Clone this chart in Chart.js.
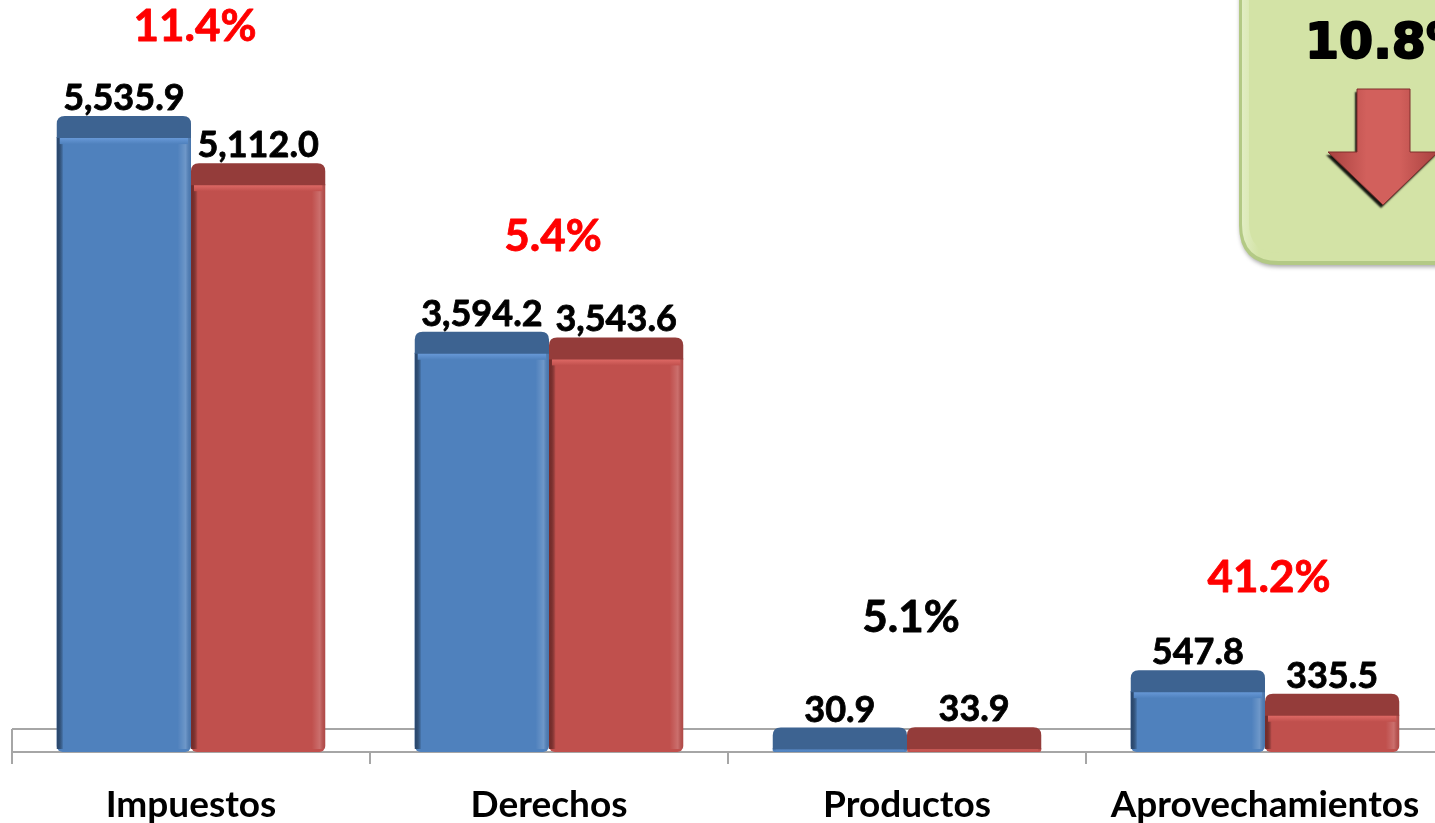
<!DOCTYPE html>
<html>
<head>
<meta charset="utf-8">
<script src="https://cdn.jsdelivr.net/npm/chart.js@4"></script>
<style>
  html, body { margin: 0; padding: 0; background: #ffffff; overflow: hidden; }
  #wrap { position: relative; width: 1500px; height: 823px; }
</style>
</head>
<body>
<div id="wrap"><canvas id="c" width="1500" height="823"></canvas></div>
<script>
// ---- DATA ----
const categories = ['Impuestos', 'Derechos', 'Productos', 'Aprovechamientos'];
const seriesA = [5535.9, 3594.2, 30.9, 547.8];
const seriesB = [5112.0, 3543.6, 33.9, 335.5];
const pctLabels = ['11.4%', '5.4%', '5.1%', '41.2%'];
const pctColors = ['#ff0000', '#ff0000', '#000000', '#ff0000'];
const totalLabel = '10.8%';

// ---- STYLE ----
const DEPTH = 21;
const FONT = 'Lato, "Open Sans", sans-serif';
const faceColors = ['#4f81bd', '#c0504d'];
const capColors = ['#3d6391', '#943c3a'];
const lipColors = ['#6b9cdb', '#e36d69'];
const darkEdge = ['#2b4a72', '#7a2d2b'];

function fmt(v) {
  return v.toLocaleString('en-US', { minimumFractionDigits: 1, maximumFractionDigits: 1 });
}

function roundTopRect(ctx, x, y, w, h, r) {
  ctx.beginPath();
  ctx.moveTo(x, y + h);
  ctx.lineTo(x, y + r);
  ctx.quadraticCurveTo(x, y, x + r, y);
  ctx.lineTo(x + w - r, y);
  ctx.quadraticCurveTo(x + w, y, x + w, y + r);
  ctx.lineTo(x + w, y + h);
  ctx.closePath();
}

function heavyText(ctx, txt, x, y, color, sw) {
  ctx.fillStyle = color;
  ctx.strokeStyle = color;
  ctx.lineWidth = sw;
  ctx.lineJoin = 'round';
  ctx.strokeText(txt, x, y);
  ctx.fillText(txt, x, y);
}

const floorPlugin = {
  id: 'floor3d',
  beforeDatasetsDraw(chart) {
    const { ctx, chartArea } = chart;
    const b = chartArea.bottom;
    ctx.save();
    ctx.strokeStyle = '#a6a6a6';
    ctx.lineWidth = 2;
    ctx.beginPath();
    ctx.moveTo(chartArea.left, b - DEPTH - 2);
    ctx.lineTo(chartArea.right, b - DEPTH - 2);
    ctx.moveTo(chartArea.left, b - DEPTH - 2);
    ctx.lineTo(chartArea.left, b);
    ctx.stroke();
    ctx.restore();
  }
};

const bar3dPlugin = {
  id: 'bar3d',
  afterDatasetsDraw(chart) {
    const ctx = chart.ctx;
    chart.data.datasets.forEach((ds, di) => {
      const meta = chart.getDatasetMeta(di);
      meta.data.forEach((bar, idx) => {
        const p = bar.getProps(['x', 'y', 'base', 'width'], true);
        const l = p.x - p.width / 2, w = p.width;
        const top = p.y, base = p.base;
        ctx.save();
        // front face shading
        const g = ctx.createLinearGradient(l, 0, l + w, 0);
        g.addColorStop(0, darkEdge[di]);
        g.addColorStop(0.05, 'rgba(0,0,0,0)');
        g.addColorStop(0.9, 'rgba(255,255,255,0)');
        g.addColorStop(0.96, 'rgba(255,255,255,0.18)');
        g.addColorStop(1, 'rgba(0,0,0,0.08)');
        ctx.fillStyle = g;
        ctx.fillRect(l, top, w, Math.max(0, base - top - 3));
        // lip (front top bevel)
        const lipH = Math.min(7, Math.max(0, base - top - 1));
        if (lipH > 0) {
          const lg = ctx.createLinearGradient(0, top, 0, top + lipH);
          lg.addColorStop(0, lipColors[di]);
          lg.addColorStop(1, faceColors[di]);
          ctx.fillStyle = lg;
          ctx.fillRect(l + 3, top, w - 6, lipH);
        }
        // top cap
        roundTopRect(ctx, l, top - DEPTH, w, DEPTH + 1, 8);
        ctx.fillStyle = capColors[di];
        ctx.fill();
        // data label
        ctx.font = 'bold 36px ' + FONT;
        ctx.textAlign = 'center';
        ctx.textBaseline = 'alphabetic';
        heavyText(ctx, fmt(ds.data[idx]), p.x, top - DEPTH - 6, '#000000', 0.8);
        ctx.restore();
      });
    });
  }
};

const pctPlugin = {
  id: 'pctNotes',
  afterDatasetsDraw(chart, args, opts) {
    const ctx = chart.ctx;
    const xs = chart.scales.x, ys = chart.scales.y;
    ctx.save();
    ctx.font = 'bold 44px ' + FONT;
    ctx.textAlign = 'center';
    ctx.textBaseline = 'middle';
    categories.forEach((c, i) => {
      const maxV = Math.max(seriesA[i], seriesB[i]);
      const y = ys.getPixelForValue(maxV) - opts.offsets[i];
      heavyText(ctx, pctLabels[i], xs.getPixelForValue(i) + opts.dx, y, pctColors[i], 0.8);
    });
    ctx.restore();
  }
};

const boxPlugin = {
  id: 'totalBox',
  afterDraw(chart) {
    const ctx = chart.ctx;
    ctx.save();
    const x = 1239, y = -40, w = 300, h = 305, r = 40;
    function rr(xx, yy, ww, hh, rad) {
      ctx.beginPath();
      ctx.moveTo(xx + rad, yy);
      ctx.lineTo(xx + ww - rad, yy);
      ctx.quadraticCurveTo(xx + ww, yy, xx + ww, yy + rad);
      ctx.lineTo(xx + ww, yy + hh - rad);
      ctx.quadraticCurveTo(xx + ww, yy + hh, xx + ww - rad, yy + hh);
      ctx.lineTo(xx + rad, yy + hh);
      ctx.quadraticCurveTo(xx, yy + hh, xx, yy + hh - rad);
      ctx.lineTo(xx, yy + rad);
      ctx.quadraticCurveTo(xx, yy, xx + rad, yy);
      ctx.closePath();
    }
    ctx.shadowColor = 'rgba(0,0,0,0.35)';
    ctx.shadowBlur = 4;
    ctx.shadowOffsetX = 1;
    ctx.shadowOffsetY = 2;
    rr(x, y, w, h, r);
    ctx.fillStyle = '#b3c985';
    ctx.fill();
    ctx.shadowColor = 'transparent';
    rr(x + 3, y + 3, w - 6, h - 7, r - 3);
    const gg = ctx.createLinearGradient(x, 0, x + 20, 0);
    gg.addColorStop(0, '#e4efc8');
    gg.addColorStop(1, '#d3e3a6');
    ctx.fillStyle = gg;
    ctx.fill();
    rr(x + 10, y + 8, w - 14, h - 20, r - 10);
    ctx.fillStyle = '#d3e3a6';
    ctx.fill();

    // text
    ctx.font = 'bold 49px "DejaVu Sans", sans-serif';
    ctx.textAlign = 'left';
    ctx.textBaseline = 'alphabetic';
    heavyText(ctx, totalLabel, 1305, 58, '#000000', 2);

    // arrow
    const pts = [[1357, 89], [1410, 89], [1410, 152], [1438, 152], [1383, 205], [1328, 152], [1357, 152]];
    ctx.beginPath();
    pts.forEach((pt, k) => k ? ctx.lineTo(pt[0], pt[1]) : ctx.moveTo(pt[0], pt[1]));
    ctx.closePath();
    ctx.shadowColor = 'rgba(0,0,0,0.9)';
    ctx.shadowBlur = 2;
    ctx.shadowOffsetX = -2;
    ctx.shadowOffsetY = 3;
    const ag = ctx.createLinearGradient(1328, 0, 1438, 0);
    ag.addColorStop(0, '#a8413f');
    ag.addColorStop(0.35, '#d2605c');
    ag.addColorStop(0.65, '#d2605c');
    ag.addColorStop(1, '#a8413f');
    ctx.fillStyle = ag;
    ctx.fill();
    ctx.shadowColor = 'transparent';
    ctx.strokeStyle = '#7e2f2d';
    ctx.lineWidth = 1;
    ctx.stroke();
    ctx.restore();
  }
};

new Chart(document.getElementById('c'), {
  type: 'bar',
  data: {
    labels: categories,
    datasets: [
      { label: 'A', data: seriesA, backgroundColor: faceColors[0], borderWidth: 0,
        borderSkipped: false, borderRadius: { topLeft: 0, topRight: 0, bottomLeft: 6, bottomRight: 6 } },
      { label: 'B', data: seriesB, backgroundColor: faceColors[1], borderWidth: 0,
        borderSkipped: false, borderRadius: { topLeft: 0, topRight: 0, bottomLeft: 6, bottomRight: 6 } }
    ]
  },
  options: {
    responsive: false,
    animation: false,
    devicePixelRatio: 1,
    layout: { padding: { left: 12, right: 56, top: 30, bottom: 0 } },
    datasets: { bar: { categoryPercentage: 0.75, barPercentage: 1.0 } },
    plugins: {
      legend: { display: false },
      tooltip: { enabled: false },
      pctNotes: { offsets: [110, 116, 130, 113], dx: 4 }
    },
    scales: {
      y: { display: false, min: 0, max: 6500 },
      x: {
        offset: true,
        afterFit: (s) => { s.height = 71; },
        grid: { offset: true, drawOnChartArea: false, drawTicks: true, tickLength: 12, color: '#a6a6a6', lineWidth: 2 },
        border: { display: true, color: '#a6a6a6', width: 2 },
        ticks: { color: '#000000', font: { family: FONT, size: 37, weight: 'bold' }, padding: 19, maxRotation: 0, autoSkip: false }
      }
    }
  },
  plugins: [floorPlugin, bar3dPlugin, pctPlugin, boxPlugin]
});
</script>
</body>
</html>
